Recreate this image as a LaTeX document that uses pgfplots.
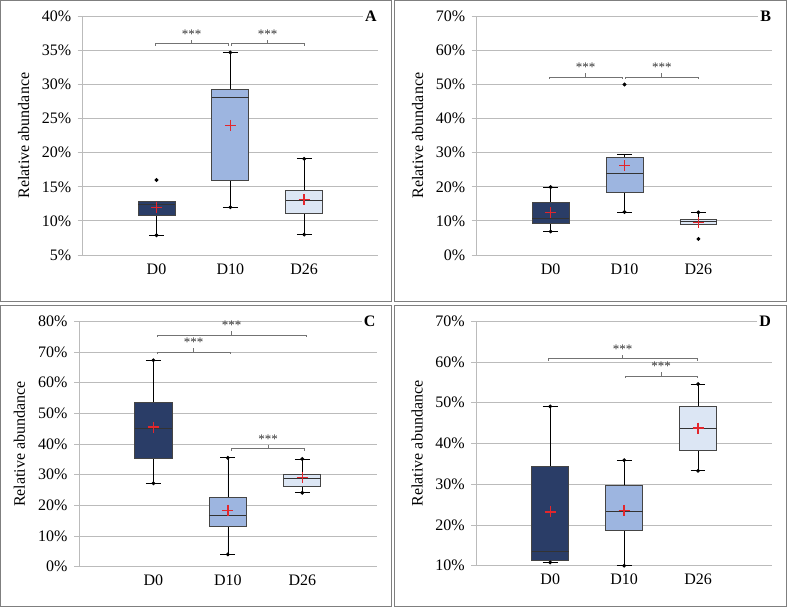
\documentclass[border=0pt]{standalone}
\usepackage{fontspec}
\setmainfont{Liberation Serif}
\usepackage{pgfplots}
\pgfplotsset{compat=1.18}
\usepgfplotslibrary{statistics}

\definecolor{cD0}{HTML}{2A3D67}
\definecolor{cD10}{HTML}{9DB5E0}
\definecolor{cD26}{HTML}{DCE6F4}
\definecolor{gridc}{HTML}{BBBBBB}
\definecolor{boxc}{HTML}{454545}
\definecolor{meanc}{HTML}{E3262C}
\definecolor{framec}{HTML}{7F7F7F}

\pgfplotsset{
  panel/.style={
    scale only axis, anchor=south west,
    xmin=0, xmax=4, xtick={1,2,3}, xticklabels={D0,D10,D26},
    axis x line*=bottom, axis y line*=left,
    axis line style={-, draw=gridc, line width=0.8pt},
    ymajorgrids, grid style={draw=gridc, line width=0.8pt},
    tick align=outside, major tick length=5pt,
    ytick style={draw=gridc, line width=0.8pt},
    xtick style={draw=none},
    tick label style={font=\fontsize{16}{16}\selectfont},
    yticklabel style={xshift=-3pt},
    /pgf/number format/assume math mode=true,
    yticklabel={\pgfmathprintnumber{\tick}\%},
    ylabel={Relative abundance},
    ylabel style={font=\fontsize{16}{16}\selectfont,
      at={(axis description cs:-0.2,0.5)}, anchor=center},
    clip=false,
    boxplot/draw direction=y,
    boxplot/box extend=0.5,
    boxplot/whisker extend=0.2,
    boxplot/every median/.style={draw=black!80, line width=1pt},
    boxplot/every whisker/.style={draw=black, line width=0.7pt},
    boxplot/every box/.style={draw=boxc, line width=0.8pt},
  },
  bx/.style={draw=boxc, line width=0.8pt, solid,
    mark=*, mark size=1.5pt, mark options={draw=black, fill=black}},
  avg/.style={only marks, mark=+, mark size=5.5pt, color=meanc,
    mark options={line width=1.4pt, draw=meanc}},
}
\tikzset{
  brk/.style={draw=black!55, line width=0.7pt},
  stars/.style={anchor=base, yshift=5.5pt, text=black!80,
    font=\fontsize{13}{13}\selectfont},
  letter/.style={anchor=east, fill=white, inner sep=2pt, xshift=1pt,
    font=\bfseries\fontsize{16}{16}\selectfont},
  frame/.style={draw=framec, line width=1pt},
}
% bracket: x from, x to, x middle, height
\newcommand{\brk}[4]{%
  \draw[brk] ([yshift=-2pt]axis cs:#1,#4) -- (axis cs:#1,#4) -- (axis cs:#2,#4) -- ([yshift=-2pt]axis cs:#2,#4);
  \draw[brk] (axis cs:#3,#4) -- ([yshift=4pt]axis cs:#3,#4);
  \node[stars] at (axis cs:#3,#4) {***};
}

\begin{document}
\begin{tikzpicture}
\useasboundingbox (0pt,0pt) rectangle (789pt,610pt);
\draw[frame] (0.5pt,308.3pt) rectangle (391.7pt,609.5pt);
\draw[frame] (394.7pt,308.3pt) rectangle (786pt,609.5pt);
\draw[frame] (0.5pt,3.3pt) rectangle (391.7pt,304.5pt);
\draw[frame] (394.7pt,3.3pt) rectangle (786pt,304.5pt);

% ---- A
\begin{axis}[panel, at={(82.7pt,355pt)}, width=295.3pt, height=238.7pt,
    ymin=5, ymax=40, ytick={5,10,...,40}]
\addplot[bx, fill=cD0, boxplot prepared={lower whisker=7.9, lower quartile=10.8,
    median=12.4, upper quartile=12.9, upper whisker=12.9, draw position=1}]
    table[row sep=\\, y index=0] {v\\ 7.9\\ 16.0\\};
\addplot[bx, fill=cD10, boxplot prepared={lower whisker=12.0, lower quartile=16.0,
    median=28.1, upper quartile=29.3, upper whisker=34.7, draw position=2}]
    table[row sep=\\, y index=0] {v\\ 12.0\\ 34.7\\};
\addplot[bx, fill=cD26, boxplot prepared={lower whisker=8.0, lower quartile=11.1,
    median=13.0, upper quartile=14.5, upper whisker=19.1, draw position=3}]
    table[row sep=\\, y index=0] {v\\ 8.0\\ 19.1\\};
\addplot[avg] coordinates {(1,12.0) (2,24.0) (3,13.1)};
\brk{0.98}{1.97}{1.475}{36}
\brk{2.01}{3}{2.505}{36}
\node[letter] at (rel axis cs:1,1) {A};
\end{axis}

% ---- B
\begin{axis}[panel, at={(476.7pt,355pt)}, width=295.6pt, height=238.7pt,
    ymin=0, ymax=70, ytick={0,10,...,70}]
\addplot[bx, fill=cD0, boxplot prepared={lower whisker=6.9, lower quartile=9.2,
    median=10.65, upper quartile=15.4, upper whisker=19.9, draw position=1}]
    table[row sep=\\, y index=0] {v\\ 6.9\\ 19.9\\};
\addplot[bx, fill=cD10, boxplot prepared={lower whisker=12.6, lower quartile=18.4,
    median=24.0, upper quartile=28.5, upper whisker=29.4, draw position=2}]
    table[row sep=\\, y index=0] {v\\ 12.6\\ 50.0\\};
\addplot[bx, fill=cD26, boxplot prepared={lower whisker=8.9, lower quartile=9.1,
    median=9.8, upper quartile=10.5, upper whisker=12.5, draw position=3}]
    table[row sep=\\, y index=0] {v\\ 12.5\\ 4.7\\};
\addplot[avg] coordinates {(1,12.4) (2,26.2) (3,9.5)};
\brk{0.98}{1.97}{1.475}{52.2}
\brk{2.01}{3}{2.505}{52.2}
\node[letter] at (rel axis cs:1,1) {B};
\end{axis}

% ---- C
\begin{axis}[panel, at={(79pt,43.3pt)}, width=297.7pt, height=245.4pt,
    ymin=0, ymax=80, ytick={0,10,...,80}]
\addplot[bx, fill=cD0, boxplot prepared={lower whisker=27.2, lower quartile=35.3,
    median=45.1, upper quartile=53.6, upper whisker=67.3, draw position=1}]
    table[row sep=\\, y index=0] {v\\ 27.2\\ 67.3\\};
\addplot[bx, fill=cD10, boxplot prepared={lower whisker=4.0, lower quartile=13.2,
    median=16.7, upper quartile=22.5, upper whisker=35.5, draw position=2}]
    table[row sep=\\, y index=0] {v\\ 4.0\\ 35.5\\};
\addplot[bx, fill=cD26, boxplot prepared={lower whisker=24.1, lower quartile=26.2,
    median=28.7, upper quartile=30.0, upper whisker=35.1, draw position=3}]
    table[row sep=\\, y index=0] {v\\ 24.1\\ 35.1\\};
\addplot[avg] coordinates {(1,45.5) (2,18.4) (3,29.0)};
\brk{1.05}{3.05}{2.05}{75.5}
\brk{1.05}{2.03}{1.54}{69.9}
\brk{2.05}{3.03}{2.54}{38.5}
\node[letter] at (rel axis cs:1,1) {C};
\end{axis}

% ---- D
\begin{axis}[panel, at={(476.3pt,44.3pt)}, width=295.7pt, height=244.4pt,
    ymin=10, ymax=70, ytick={10,20,...,70}]
\addplot[bx, fill=cD0, boxplot prepared={lower whisker=10.8, lower quartile=11.2,
    median=13.4, upper quartile=34.5, upper whisker=49.1, draw position=1}]
    table[row sep=\\, y index=0] {v\\ 10.8\\ 49.1\\};
\addplot[bx, fill=cD10, boxplot prepared={lower whisker=10.0, lower quartile=18.6,
    median=23.3, upper quartile=29.6, upper whisker=35.9, draw position=2}]
    table[row sep=\\, y index=0] {v\\ 10.0\\ 35.9\\};
\addplot[bx, fill=cD26, boxplot prepared={lower whisker=33.3, lower quartile=38.3,
    median=43.7, upper quartile=49.0, upper whisker=54.6, draw position=3}]
    table[row sep=\\, y index=0] {v\\ 33.3\\ 54.6\\};
\addplot[avg] coordinates {(1,23.2) (2,23.6) (3,43.8)};
\brk{0.97}{2.99}{1.98}{60.8}
\brk{2.01}{2.99}{2.5}{56.6}
\node[letter] at (rel axis cs:1,1) {D};
\end{axis}
\end{tikzpicture}
\end{document}
